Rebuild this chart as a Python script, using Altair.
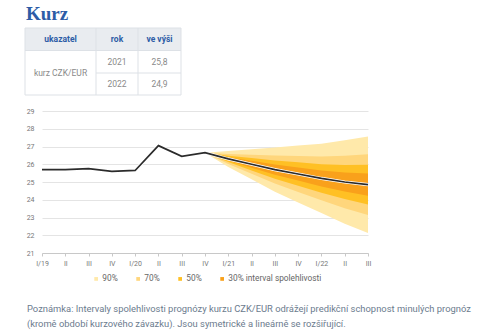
import altair as alt
import pandas as pd

# ---------------- data ----------------
quarters = ["I/19", "II", "III", "IV", "I/20", "II", "III", "IV",
            "I/21", "II", "III", "IV", "I/22", "II", "III"]
rate = [25.7, 25.7, 25.75, 25.6, 25.65, 27.05, 26.45, 26.65,
        26.3, 26.0, 25.7, 25.45, 25.2, 25.0, 24.85]
fan_start = 7  # IV/20 = last observed quarter, fan opens here
hw90 = [0, 0.45, 0.85, 1.25, 1.6, 1.95, 2.35, 2.72]
hw70 = [0, 0.28, 0.54, 0.79, 1.01, 1.23, 1.48, 1.71]
hw50 = [0, 0.18, 0.35, 0.51, 0.66, 0.80, 0.96, 1.12]
hw30 = [0, 0.10, 0.20, 0.29, 0.37, 0.45, 0.54, 0.63]
band_names = ["90%", "70%", "50%", "30% interval spolehlivosti"]
band_colors = ["#FFE9AA", "#FFD67C", "#FFC024", "#F9A11B"]

title_text = "Kurz"
table_header = ["ukazatel", "rok", "ve výši"]
table_item = "kurz CZK/EUR"
table_years = ["2021", "2022"]
table_values = ["25,8", "24,9"]
note_lines = [
    "Poznámka: Intervaly spolehlivosti prognózy kurzu CZK/EUR odrážejí predikční schopnost minulých prognóz",
    "(kromě období kurzového závazku). Jsou symetrické a lineárně se rozšiřující.",
]

# ---------------- layout ----------------
OX, OY = 42, 111          # plot-area origin in page pixels
W, H = 326, 142
FONT = "Roboto"
BLUE = "#2D5CA6"


def px(x):
    return x - OX


def py(y):
    return y - OY


line_df = pd.DataFrame({"i": list(range(len(quarters))), "v": rate})

xs = alt.Scale(domain=[0, len(quarters) - 1], nice=False, zero=False)
ys = alt.Scale(domain=[21, 29], nice=False, zero=False)
label_expr = "[" + ",".join("'" + q + "'" for q in quarters) + "][datum.value]"

x_axis = alt.Axis(values=list(range(len(quarters))), labelExpr=label_expr, title=None,
                  grid=False, domain=True, domainColor="#C8C8C8", ticks=True,
                  tickColor="#C8C8C8", tickSize=3, labelColor="#777777",
                  labelFontSize=7, labelFont=FONT, labelPadding=3, labelFlush=False)
y_axis = alt.Axis(values=list(range(21, 30)), title=None, grid=True, gridColor="#E4E4E4",
                  domain=False, ticks=False, labelColor="#777777", labelFontSize=7,
                  labelFont=FONT, labelPadding=8)

color_scale = alt.Scale(domain=band_names, range=band_colors)
legend = alt.Legend(orient="none", legendX=px(92), legendY=py(274.5), direction="horizontal",
                    title=None, symbolType="square", symbolSize=14, symbolStrokeWidth=0,
                    labelFontSize=8.3, labelFont=FONT, labelColor="#666666", labelOffset=2,
                    columnPadding=16, padding=0)

layers = []
for name, hw in zip(band_names, [hw90, hw70, hw50, hw30]):
    idx = list(range(fan_start, fan_start + len(hw)))
    center = [rate[i] for i in idx]
    df = pd.DataFrame({
        "i": idx,
        "lo": [c - h for c, h in zip(center, hw)],
        "hi": [c + h for c, h in zip(center, hw)],
        "band": name,
    })
    layers.append(
        alt.Chart(df).mark_area(opacity=1).encode(
            x=alt.X("i:Q", scale=xs, axis=x_axis),
            y=alt.Y("lo:Q", scale=ys, axis=y_axis),
            y2="hi:Q",
            color=alt.Color("band:N", scale=color_scale, legend=legend),
        )
    )

layers.append(alt.Chart(line_df).mark_line(color="white", strokeWidth=3.2).encode(
    x=alt.X("i:Q", scale=xs, axis=x_axis), y=alt.Y("v:Q", scale=ys, axis=y_axis)))
layers.append(alt.Chart(line_df).mark_line(color="#2B2B2B", strokeWidth=1.7).encode(
    x=alt.X("i:Q", scale=xs, axis=x_axis), y=alt.Y("v:Q", scale=ys, axis=y_axis)))

dummy = pd.DataFrame({"d": [0]})


def text(t, x, y, size, color, align="center", weight="normal", font=FONT, baseline="middle"):
    return alt.Chart(dummy).mark_text(
        text=t, align=align, baseline=baseline, fontSize=size, color=color,
        fontWeight=weight, font=font).encode(x=alt.value(px(x)), y=alt.value(py(y)))


def rect(x1, x2, y1, y2, color):
    return alt.Chart(dummy).mark_rect(color=color).encode(
        x=alt.value(px(x1)), x2=alt.value(px(x2)), y=alt.value(py(y1)), y2=alt.value(py(y2)))


def rule(x1, x2, y1, y2, color="#DDE1E6"):
    return alt.Chart(dummy).mark_rule(color=color, strokeWidth=1).encode(
        x=alt.value(px(x1)), x2=alt.value(px(x2)), y=alt.value(py(y1)), y2=alt.value(py(y2)))


# title
layers.append(text(title_text, 26, 20, 19, BLUE, align="left", weight="bold",
                   font="Liberation Serif", baseline="alphabetic"))

# table
TL, TC1, TC2, TR = 25, 96, 138, 181
TT, TH, TM, TB = 28, 50.5, 73, 95
layers.append(rect(TL, TR, TT, TH, "#E9ECF0"))
for yy in (TT, TH, TB):
    layers.append(rule(TL, TR, yy, yy))
layers.append(rule(TC1, TR, TM, TM))
for xx in (TL, TC1, TC2, TR):
    layers.append(rule(xx, xx, TT, TB))
col_centers = [(TL + TC1) / 2, (TC1 + TC2) / 2, (TC2 + TR) / 2]
for t, cx in zip(table_header, col_centers):
    layers.append(text(t, cx, (TT + TH) / 2, 8.5, BLUE, weight="bold"))
layers.append(text(table_item, col_centers[0], (TH + TB) / 2, 8.5, "#8A8A8A"))
for j, (yr, val) in enumerate(zip(table_years, table_values)):
    cy = (TH + TM) / 2 if j == 0 else (TM + TB) / 2
    layers.append(text(yr, col_centers[1], cy, 8.5, "#8A8A8A"))
    layers.append(text(val, col_centers[2], cy, 8.5, "#8A8A8A"))

# note
layers.append(text(note_lines[0], 27, 309, 9.4, "#6B7B8E", align="left"))
layers.append(text(note_lines[1], 27, 324, 9.4, "#6B7B8E", align="left"))

chart = alt.layer(*layers).properties(
    width=W, height=H,
    padding={"left": OX, "top": OY, "right": 500 - OX - W, "bottom": 336 - OY - H},
    autosize=alt.AutoSizeParams(type="none"),
    background="white",
).configure_view(stroke=None)

chart.save("out.html", embed_options={"renderer": "svg", "actions": False})
